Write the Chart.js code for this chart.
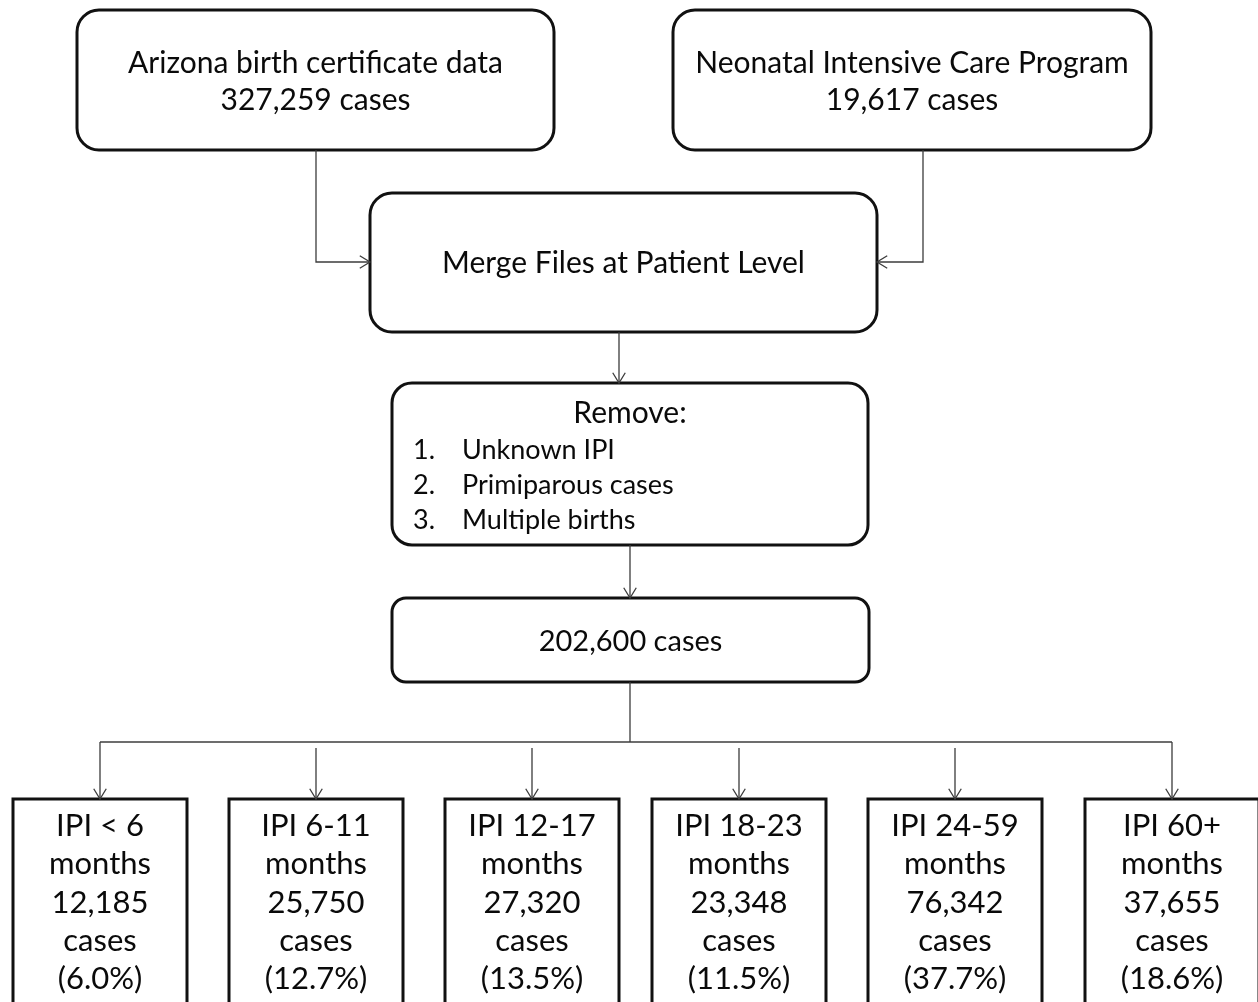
<!DOCTYPE html>
<html>
<head>
<meta charset="utf-8">
<title>IPI flowchart</title>
<script src="https://cdn.jsdelivr.net/npm/chart.js@4"></script>
<style>
  html, body { margin: 0; padding: 0; background: #fff; }
  canvas { display: block; }
</style>
</head>
<body>
<canvas id="flow" width="1258" height="1002"></canvas>
<script>
// flowchart data
const sourceNames   = ['Arizona birth certificate data', 'Neonatal Intensive Care Program'];
const sourceCases   = [327259, 19617];
const mergeLabel    = 'Merge Files at Patient Level';
const removeTitle   = 'Remove:';
const removeReasons = ['Unknown IPI', 'Primiparous cases', 'Multiple births'];
const finalCases    = 202600;
const ipiGroups     = ['IPI < 6', 'IPI 6-11', 'IPI 12-17', 'IPI 18-23', 'IPI 24-59', 'IPI 60+'];
const ipiCases      = [12185, 25750, 27320, 23348, 76342, 37655];
const ipiPercent    = [6.0, 12.7, 13.5, 11.5, 37.7, 18.6];

// layout, in chart units (1 unit = 1 px)
const W = 1258, H = 1002;
const topBoxes   = [{ x0: 77, x1: 554, y0: 10, y1: 150 }, { x0: 673, x1: 1151, y0: 10, y1: 150 }];
const mergeBox   = { x0: 370, x1: 877, y0: 193, y1: 332 };
const removeBox  = { x0: 392, x1: 868, y0: 383, y1: 545 };
const countBox   = { x0: 392, x1: 869, y0: 598, y1: 682 };
const groupLeft  = [13, 229, 445, 652, 868, 1085];
const groupWidth = 174;
const groupTop   = 799;
const busY       = 742;

const FONT = 'Lato, "Open Sans", sans-serif';
const INK  = '#0a0a0a';
const LINE = '#3c3c3c';
const fmt  = n => n.toLocaleString('en-US');
const mid  = b => (b.x0 + b.x1) / 2;
const groupMid = i => groupLeft[i] + groupWidth / 2;

// connectors -> scatter datasets with lines
function connector(points, arrow) {
  return {
    data: points.map(([x, y]) => ({ x, y })),
    showLine: true, borderColor: LINE, borderWidth: 1.3,
    pointRadius: 0, fill: false, tension: 0, arrow
  };
}
const datasets = [
  connector([[316, topBoxes[0].y1], [316, 262], [mergeBox.x0, 262]], true),
  connector([[923, topBoxes[1].y1], [923, 262], [mergeBox.x1, 262]], true),
  connector([[619, mergeBox.y1], [619, removeBox.y0]], true),
  connector([[630, removeBox.y1], [630, countBox.y0]], true),
  connector([[630, countBox.y1], [630, busY]], false),
  connector([[groupMid(0), busY], [groupMid(ipiGroups.length - 1), busY]], false),
  connector([[groupMid(0), busY], [groupMid(0), groupTop]], true),
  connector([[groupMid(ipiGroups.length - 1), busY], [groupMid(ipiGroups.length - 1), groupTop]], true),
];
for (let i = 1; i < ipiGroups.length - 1; i++) {
  datasets.push(connector([[groupMid(i), busY + 6], [groupMid(i), groupTop]], true));
}

function roundBox(ctx, x0, y0, x1, y1, r) {
  ctx.beginPath();
  ctx.moveTo(x0 + r, y0);
  ctx.lineTo(x1 - r, y0);
  ctx.arcTo(x1, y0, x1, y0 + r, r);
  ctx.lineTo(x1, y1 - r);
  ctx.arcTo(x1, y1, x1 - r, y1, r);
  ctx.lineTo(x0 + r, y1);
  ctx.arcTo(x0, y1, x0, y1 - r, r);
  ctx.lineTo(x0, y0 + r);
  ctx.arcTo(x0, y0, x0 + r, y0, r);
  ctx.closePath();
}

const boxesPlugin = {
  id: 'boxes',
  beforeDatasetsDraw(chart) {
    const { ctx, scales: { x, y } } = chart;
    const px = v => x.getPixelForValue(v), py = v => y.getPixelForValue(v);
    const drawBox = (b, r) => {
      roundBox(ctx, px(b.x0), py(b.y0), px(b.x1), py(b.y1), r);
      ctx.fillStyle = '#fff'; ctx.fill();
      ctx.lineWidth = 3; ctx.strokeStyle = '#111'; ctx.stroke();
    };
    const text = (s, cx, cy, size, align) => {
      ctx.font = size + 'px ' + FONT;
      ctx.textAlign = align || 'center';
      ctx.textBaseline = 'middle';
      ctx.fillStyle = INK;
      ctx.fillText(s, px(cx), py(cy));
    };
    ctx.save();
    topBoxes.forEach((b, i) => {
      drawBox(b, 22);
      text(sourceNames[i], mid(b), 63, 30);
      text(fmt(sourceCases[i]) + ' cases', mid(b), 100, 30);
    });
    drawBox(mergeBox, 22);
    text(mergeLabel, mid(mergeBox), 263, 30);
    drawBox(removeBox, 20);
    text(removeTitle, 630, 413, 30);
    removeReasons.forEach((r, i) => {
      text((i + 1) + '.', 413, 450 + i * 35, 27, 'left');
      text(r, 462, 450 + i * 35, 27, 'left');
    });
    drawBox(countBox, 14);
    text(fmt(finalCases) + ' cases', mid(countBox), 642, 29);
    ipiGroups.forEach((g, i) => {
      const b = { x0: groupLeft[i], x1: groupLeft[i] + groupWidth, y0: groupTop, y1: H + 10 };
      ctx.beginPath();
      ctx.rect(px(b.x0), py(b.y0), px(b.x1) - px(b.x0), py(b.y1) - py(b.y0));
      ctx.fillStyle = '#fff'; ctx.fill();
      ctx.lineWidth = 3; ctx.strokeStyle = '#111'; ctx.stroke();
      const lines = [g, 'months', fmt(ipiCases[i]), 'cases', '(' + ipiPercent[i].toFixed(1) + '%)'];
      lines.forEach((s, k) => text(s, mid(b), 826 + k * 38.3, 31));
    });
    ctx.restore();
  },
  afterDatasetsDraw(chart) {
    const { ctx } = chart;
    ctx.save();
    ctx.strokeStyle = LINE; ctx.lineWidth = 1.3;
    chart.data.datasets.forEach((ds, i) => {
      if (!ds.arrow) return;
      const pts = chart.getDatasetMeta(i).data;
      const a = pts[pts.length - 2], b = pts[pts.length - 1];
      const ang = Math.atan2(b.y - a.y, b.x - a.x);
      const len = 12, spread = 0.55;
      ctx.beginPath();
      ctx.moveTo(b.x - len * Math.cos(ang - spread), b.y - len * Math.sin(ang - spread));
      ctx.lineTo(b.x, b.y);
      ctx.lineTo(b.x - len * Math.cos(ang + spread), b.y - len * Math.sin(ang + spread));
      ctx.stroke();
    });
    ctx.restore();
  }
};

new Chart(document.getElementById('flow').getContext('2d'), {
  type: 'scatter',
  data: { datasets },
  options: {
    responsive: false, animation: false, events: [],
    layout: { padding: 0 },
    plugins: { legend: { display: false }, tooltip: { enabled: false } },
    scales: {
      x: { type: 'linear', min: 0, max: W, display: false },
      y: { type: 'linear', min: 0, max: H, reverse: true, display: false }
    }
  },
  plugins: [boxesPlugin]
});
</script>
</body>
</html>
